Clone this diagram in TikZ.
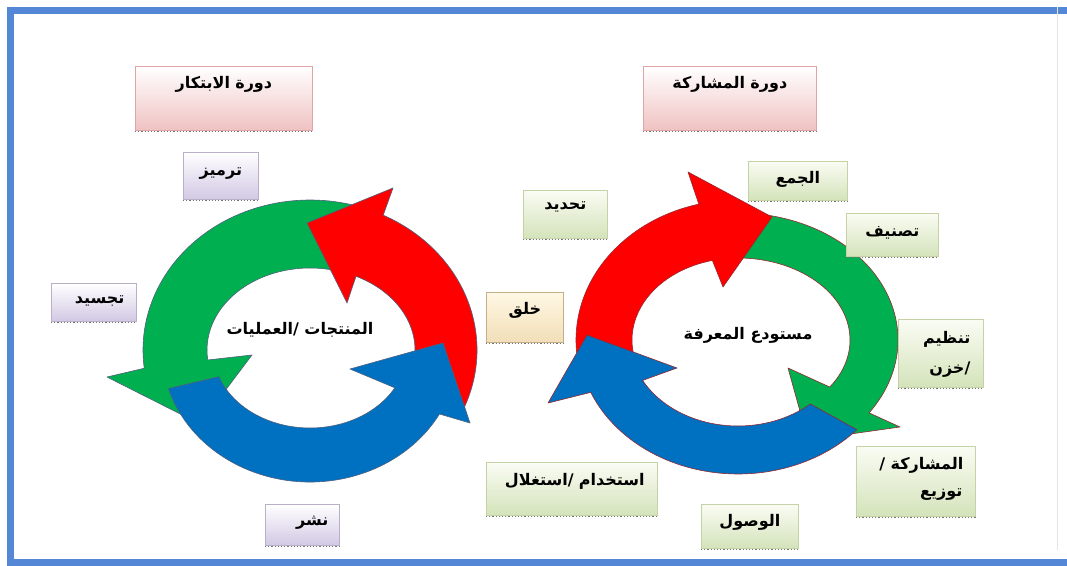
\documentclass[tikz,border=0pt]{standalone}
\usepackage{fontspec}
\newfontfamily\arabicfont[Script=Arabic]{DejaVu Sans}
\TeXXeTstate=1
\newcommand\ar[1]{{\arabicfont\bfseries\beginR #1\endR}}
\definecolor{frameblue}{RGB}{84,136,214}
\definecolor{ared}{RGB}{255,0,0}
\definecolor{agreen}{RGB}{0,176,80}
\definecolor{ablue}{RGB}{0,112,192}
\definecolor{loutL}{RGB}{80,95,125}
\definecolor{loutR}{RGB}{150,40,50}
\definecolor{pinkB}{RGB}{240,194,194}
\definecolor{pinkD}{RGB}{226,165,165}
\definecolor{lavB}{RGB}{210,200,228}
\definecolor{lavD}{RGB}{185,176,200}
\definecolor{tanT}{RGB}{255,248,228}
\definecolor{tanB}{RGB}{242,222,184}
\definecolor{tanD}{RGB}{196,176,136}
\definecolor{grnT}{RGB}{250,252,244}
\definecolor{grnB}{RGB}{212,227,186}
\definecolor{grnD}{RGB}{196,210,166}
\tikzset{
  bx/.style={anchor=north west, inner xsep=0pt, inner ysep=0pt, line width=0.7pt,
    font=\fontsize{16}{27}\selectfont},
  pinkbox/.style={bx, draw=pinkD, top color=white, bottom color=pinkB},
  lavbox/.style={bx, draw=lavD, top color=white, bottom color=lavB},
  tanbox/.style={bx, draw=tanD, top color=tanT, bottom color=tanB},
  grnbox/.style={bx, draw=grnD, top color=grnT, bottom color=grnB},
  lbl/.style={inner sep=0pt, font=\fontsize{16}{18}\selectfont},
  arrL/.style={draw=loutL, line width=0.6pt, line join=round},
  arrR/.style={draw=loutR, line width=0.6pt, line join=round},
  shadowline/.style={dotted, line width=1.2pt, black!55}
}
\begin{document}
\begin{tikzpicture}[x=1pt,y=1pt]
\useasboundingbox (0,0) rectangle (1067,565);
\fill[white] (0,0) rectangle (1067,565);
% frame
\draw[frameblue, line width=7.5pt] (1090,554.5) -- (10.5,554.5) -- (10.5,2.5) -- (1090,2.5);
\draw[black!10, line width=0.8pt] (1057,15) -- (1057,558);

% ---------- left cycle ----------
\begin{scope}[shift={(310,215)}]
\path[arrL, fill=agreen] (72:167pt and 150pt)
  arc[start angle=72, end angle=187, x radius=167pt, y radius=150pt]
  -- (-203,-27) -- (-110,-74) -- (-58,-5)
  -- (187:103pt and 82pt)
  arc[start angle=187, end angle=72, x radius=103pt, y radius=82pt] -- cycle;
\path[arrL, fill=ared] (-23:167pt and 150pt)
  arc[start angle=-23, end angle=64, x radius=167pt, y radius=150pt]
  -- (83,162) -- (-3,127) -- (37,47)
  -- (64:105pt and 82pt)
  arc[start angle=64, end angle=-23, x radius=105pt, y radius=82pt] -- cycle;
\path[arrL, fill=ablue] (197:148pt and 132pt)
  arc[start angle=197, end angle=331, x radius=148pt, y radius=132pt]
  -- (160,-73) -- (133,7) -- (40,-19)
  -- (331:97pt and 78pt)
  arc[start angle=331, end angle=200, x radius=97pt, y radius=78pt] -- cycle;
\end{scope}

% ---------- right cycle ----------
\begin{scope}[shift={(738,225)}]
\path[arrR, fill=agreen] (80:160pt and 127pt)
  arc[start angle=80, end angle=-35, x radius=160pt, y radius=127pt]
  -- (162,-87) -- (70,-100) -- (50,-28)
  -- (-35:112pt and 82pt)
  arc[start angle=-35, end angle=89, x radius=112pt, y radius=82pt] -- cycle;
\path[arrR, fill=ared] (198:162pt and 140pt)
  arc[start angle=198, end angle=104, x radius=162pt, y radius=140pt]
  -- (-50,168) -- (34,123) -- (-15,53)
  -- (104:106pt and 82pt)
  arc[start angle=104, end angle=198, x radius=106pt, y radius=82pt] -- cycle;
\path[arrR, fill=ablue] (-42:160pt and 134pt)
  arc[start angle=-42, end angle=-157, x radius=160pt, y radius=134pt]
  -- (-190,-63) -- (-151,5) -- (-61,-28)
  -- (-152:108pt and 86pt)
  arc[start angle=-152, end angle=-48, x radius=108pt, y radius=86pt] -- cycle;
\end{scope}

% ---------- boxes ----------
\node[pinkbox, text width=177pt, align=center, text height=22pt, text depth=42pt] (innov) at (135,499) {\ar{دورة الابتكار}};
\node[pinkbox, text width=173pt, align=center, text height=22pt, text depth=42pt] (share) at (643,499) {\ar{دورة المشاركة}};
\node[lavbox, text width=75pt, align=center, text height=23pt, text depth=24pt] (tarmiz) at (183,413) {\ar{ترميز}};
\node[lavbox, text width=85pt, align=right, text height=20pt, text depth=18pt] (tajsid) at (51,282) {\ar{تجسيد}\kern12pt};
\node[lavbox, text width=74pt, align=right, text height=21pt, text depth=20pt] (nashr) at (265,61) {\ar{نشر}\kern11pt};
\node[tanbox, text width=77pt, align=center, text height=22pt, text depth=28pt] (khalq) at (486,273) {\ar{خلق}};
\node[grnbox, text width=171pt, align=center, text height=23pt, text depth=30pt] (use) at (486,103) {\kern6pt\ar{استخدام /\kern0pt استغلال}};
\node[grnbox, text width=84pt, align=center, text height=19pt, text depth=29pt] (tahdid) at (523,375) {\ar{تحديد}};
\node[grnbox, text width=99pt, align=center, text height=22pt, text depth=17pt] (jam) at (748,404) {\ar{الجمع}};
\node[grnbox, text width=92pt, align=center, text height=23pt, text depth=20pt] (tasnif) at (846,352) {\ar{تصنيف}};
\node[grnbox, text width=85pt, align=right, text height=24pt, text depth=44pt, font=\fontsize{16}{30}\selectfont] (tanzim) at (898,246) {\ar{تنظيم}\kern13pt\\\ar{/\kern0pt خزن}\kern13pt};
\node[grnbox, text width=119pt, align=right, text height=23pt, text depth=47pt] (tawzi) at (856,119) {\ar{المشاركة /}\kern12pt\\\ar{توزيع}\kern13pt};
\node[grnbox, text width=97pt, align=center, text height=22pt, text depth=22pt] (wusul) at (701,61) {\ar{الوصول}};

\foreach \n in {innov,share,tarmiz,tajsid,nashr,khalq,use,tahdid,jam,tasnif,tanzim,tawzi,wusul}
  \draw[shadowline] ([yshift=-1pt]\n.south west) -- ([yshift=-1pt]\n.south east);

% ---------- centre labels ----------
\node[lbl] (prod) at (300,235) {\ar{المنتجات /\kern0pt العمليات}};
\node[lbl] (repo) at (748,230) {\ar{مستودع المعرفة}};
\end{tikzpicture}
\end{document}
